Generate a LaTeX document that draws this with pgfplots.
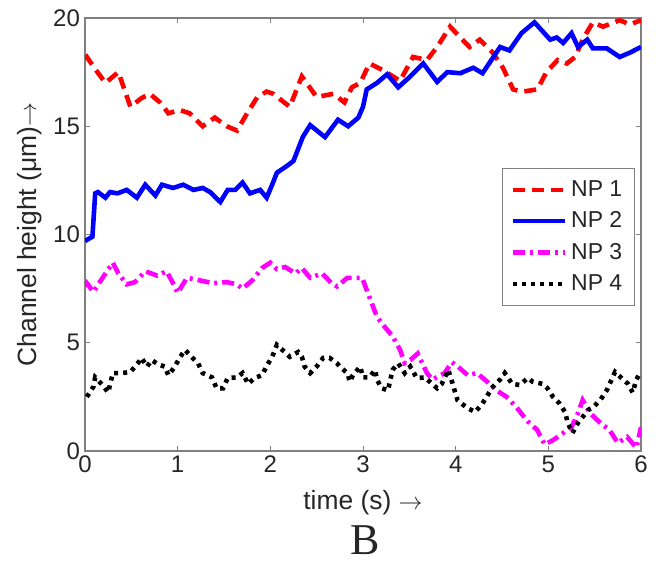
\documentclass[border=0pt]{standalone}
\usepackage{fontspec}
\setmainfont{Liberation Sans}
\newfontfamily\serifB{Liberation Serif}
\usepackage{pgfplots}
\pgfplotsset{compat=1.18}
\definecolor{npred}{rgb}{1,0,0}
\definecolor{npblue}{rgb}{0,0,1}
\definecolor{npmag}{rgb}{1,0,1}

\begin{document}
\begin{tikzpicture}
\begin{axis}[
  scale only axis,
  width=278pt, height=216.5pt,
  xmin=0, xmax=6, ymin=0, ymax=20,
  xtick={0,1,2,3,4,5,6},
  ytick={0,5,10,15,20},
  tick align=inside,
  major tick length=2.5pt,
  tick style={gray, line width=0.5pt},
  axis line style={gray, line width=0.9pt},
  /pgf/number format/assume math mode=true,
  tick label style={font=\fontsize{12}{14}\selectfont, text=black!85},
  xticklabel style={yshift=1pt},
  yticklabel style={xshift=1pt},
  xlabel={time (s) $\rightarrow$},
  ylabel={Channel height (μm)$\rightarrow$},
  label style={font=\fontsize{13.2}{15}\selectfont, text=black!85},
  xlabel style={yshift=-2pt},
  ylabel style={yshift=-1pt},
  legend style={at={(0.989,0.654)}, anchor=north east, draw=gray, line width=0.6pt,
    fill=white, font=\fontsize{11.5}{13}\selectfont, text=black!85,
    row sep=2.2pt, inner xsep=4pt, inner ysep=4pt, cells={anchor=west}},
  legend image code/.code={\draw[#1] (0pt,0pt) -- (26pt,0pt);},
]
\addplot[npred, line width=2.3pt, dash pattern=on 6pt off 3.5pt] table {
0.00 18.1
0.02 18.2
0.10 17.7
0.22 17.0
0.36 17.5
0.49 15.9
0.61 16.3
0.70 16.5
0.81 16.1
0.90 15.6
1.02 15.75
1.13 15.6
1.27 15.0
1.40 15.4
1.53 15.0
1.64 14.8
1.75 15.6
1.86 16.35
1.96 16.6
2.03 16.5
2.21 15.9
2.34 17.3
2.50 16.35
2.68 16.5
2.80 16.1
2.88 16.8
2.97 17.0
3.07 17.9
3.21 17.6
3.40 17.1
3.54 18.2
3.69 18.06
3.80 18.66
3.94 19.6
4.05 19.1
4.15 18.66
4.26 19.0
4.40 18.4
4.51 17.7
4.62 16.7
4.72 16.6
4.88 16.7
4.98 17.5
5.10 18.06
5.20 17.9
5.29 18.2
5.37 19.0
5.48 19.8
5.59 19.6
5.77 19.9
5.88 19.7
6.00 19.9
};
\addlegendentry{NP 1}
\addplot[npblue, line width=2.3pt] table {
0.00 9.7
0.02 9.75
0.08 9.9
0.11 11.9
0.14 11.96
0.22 11.7
0.27 11.96
0.35 11.9
0.45 12.06
0.56 11.7
0.65 12.3
0.76 11.8
0.83 12.3
0.95 12.15
1.06 12.3
1.17 12.06
1.27 12.15
1.35 11.96
1.46 11.5
1.54 12.06
1.62 12.06
1.70 12.4
1.78 11.9
1.89 12.06
1.96 11.7
2.02 12.3
2.07 12.85
2.19 13.2
2.25 13.4
2.35 14.5
2.43 15.05
2.59 14.5
2.73 15.3
2.84 15.0
2.95 15.4
3.00 15.9
3.04 16.7
3.15 17.0
3.26 17.4
3.38 16.8
3.51 17.3
3.65 17.9
3.80 17.05
3.91 17.5
4.05 17.45
4.19 17.7
4.29 17.45
4.48 18.66
4.58 18.5
4.71 19.3
4.85 19.8
5.02 19.0
5.09 19.1
5.16 18.85
5.25 19.3
5.32 18.66
5.42 19.0
5.48 18.6
5.63 18.6
5.77 18.2
5.88 18.4
6.00 18.66
};
\addlegendentry{NP 2}
\addplot[npmag, line width=2.3pt, dash pattern=on 6pt off 2.5pt on 1.5pt off 2.5pt] table {
0.00 7.6
0.02 7.75
0.09 7.35
0.19 8.0
0.30 8.7
0.36 8.2
0.45 7.7
0.54 7.8
0.65 8.3
0.78 8.1
0.88 8.3
0.95 7.75
1.00 7.3
1.10 8.0
1.22 7.9
1.38 7.75
1.53 7.8
1.64 7.7
1.70 7.5
1.81 7.9
1.91 8.45
2.00 8.7
2.07 8.4
2.16 8.5
2.27 8.2
2.34 8.45
2.43 8.0
2.56 8.2
2.66 7.75
2.72 7.6
2.83 8.0
2.99 8.0
3.07 7.1
3.15 6.2
3.24 5.7
3.32 5.3
3.40 4.67
3.45 4.06
3.51 4.2
3.59 4.5
3.69 3.6
3.75 3.3
3.88 3.6
3.96 4.1
4.05 3.8
4.13 3.5
4.23 3.6
4.34 3.2
4.44 2.8
4.55 2.5
4.66 2.0
4.77 1.4
4.88 0.97
4.96 0.3
5.05 0.5
5.16 0.83
5.25 1.1
5.32 1.75
5.37 2.35
5.45 1.75
5.56 1.3
5.66 0.97
5.75 0.37
5.85 0.65
5.95 0.15
6.00 1.1
};
\addlegendentry{NP 3}
\addplot[black, line width=2.3pt, dash pattern=on 2pt off 2.5pt] table {
0.02 2.5
0.09 2.96
0.11 3.4
0.19 3.05
0.25 2.7
0.30 3.6
0.40 3.6
0.49 3.65
0.57 4.05
0.61 4.3
0.67 3.9
0.72 4.2
0.79 4.0
0.86 3.9
0.90 3.5
0.97 3.9
1.02 4.3
1.08 4.67
1.15 4.35
1.22 4.05
1.27 3.6
1.37 3.4
1.42 2.9
1.49 2.9
1.54 3.37
1.64 3.4
1.70 3.6
1.76 3.1
1.83 3.37
1.91 3.5
1.97 4.0
2.02 4.35
2.07 4.9
2.13 4.67
2.21 4.35
2.30 4.57
2.34 4.35
2.37 3.9
2.43 3.6
2.50 3.9
2.57 4.3
2.64 4.3
2.72 4.05
2.75 3.9
2.83 3.6
2.86 3.2
2.89 3.5
2.97 3.9
3.00 3.4
3.07 3.4
3.13 3.75
3.15 3.3
3.20 2.9
3.27 2.8
3.29 3.2
3.32 3.75
3.38 4.05
3.45 3.6
3.51 3.9
3.58 3.37
3.67 3.4
3.72 3.2
3.80 2.9
3.85 3.1
3.92 3.75
3.96 3.2
4.02 2.35
4.12 2.0
4.21 1.8
4.29 2.2
4.40 2.96
4.48 3.3
4.53 3.6
4.61 3.1
4.69 3.05
4.78 3.37
4.83 3.2
4.94 3.1
4.99 2.9
5.05 2.5
5.12 2.2
5.18 1.8
5.21 1.3
5.26 0.83
5.32 1.3
5.37 1.57
5.43 1.9
5.48 2.0
5.56 2.35
5.63 2.8
5.72 3.65
5.79 3.37
5.86 3.1
5.91 2.7
5.95 3.3
5.99 3.6
};
\addlegendentry{NP 4}
\end{axis}
\node[font=\serifB\fontsize{22}{24}\selectfont, text=black!85, yshift=-44.5pt, xshift=1pt] at (current axis.south) {B};
\pgfresetboundingbox
\useasboundingbox ([shift={(-42.5pt,-56pt)}]current axis.south west) rectangle ([shift={(10.5pt,9pt)}]current axis.north east);
\end{tikzpicture}
\end{document}
